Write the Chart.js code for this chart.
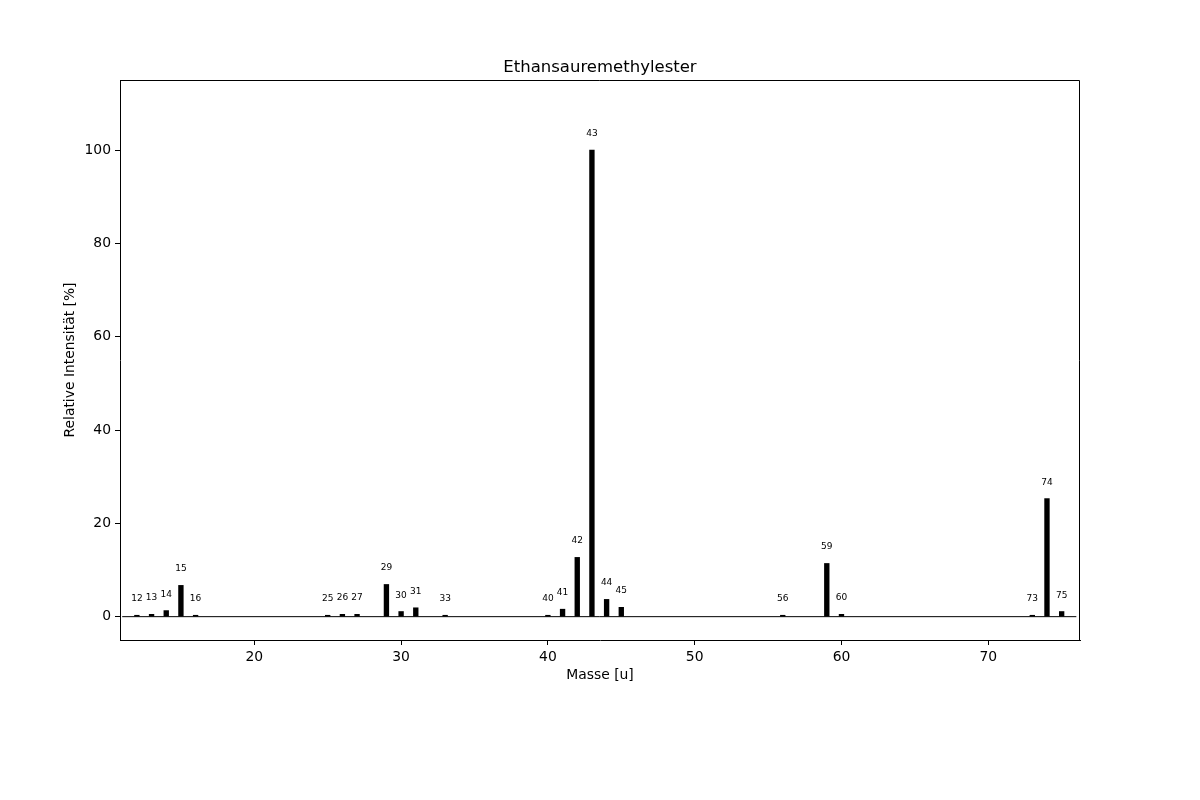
<!DOCTYPE html>
<html lang="de">
<head>
    <meta charset="UTF-8">
    <title>Ethansauremethylester</title>
    <script src="https://cdn.jsdelivr.net/npm/chart.js"></script>
    <style>
        body { margin: 0; background: #fff; }
        #chart { display: block; }
    </style>
</head>
<body>
    <canvas id="chart" width="1200" height="800"></canvas>

    <script>
        // Massenspektrum: Masse [u] und relative Intensität [%]
        const masses = [12, 13, 14, 15, 16, 25, 26, 27, 29, 30, 31, 33, 40, 41, 42, 43, 44, 45, 56, 59, 60, 73, 74, 75];
        const intensities = [0.3, 0.5, 1.3, 6.7, 0.3, 0.3, 0.5, 0.5, 6.9, 1.1, 1.9, 0.3, 0.3, 1.6, 12.7, 100, 3.7, 2.0, 0.3, 11.4, 0.5, 0.3, 25.3, 1.1];
        const xTicks = [20, 30, 40, 50, 60, 70];
        const yTicks = [0, 20, 40, 60, 80, 100];
        const baseline = [11, 76];

        const FONT = 'DejaVu Sans';

        // Rahmen, Titel, Achsenbeschriftungen und Peak-Labels
        const decorations = {
            id: 'decorations',
            afterDatasetsDraw(chart) {
                const ctx = chart.ctx;
                const area = chart.chartArea;
                const x = chart.scales.x;
                const y = chart.scales.y;

                ctx.save();
                ctx.fillStyle = '#000';
                ctx.font = '9px "' + FONT + '"';
                ctx.textAlign = 'center';
                ctx.textBaseline = 'alphabetic';
                masses.forEach((m, i) => {
                    ctx.fillText(String(m), x.getPixelForValue(m), y.getPixelForValue(intensities[i] + 3));
                });

                ctx.strokeStyle = '#000';
                ctx.lineWidth = 1;
                ctx.beginPath();
                ctx.moveTo(area.left, area.top + 0.5);
                ctx.lineTo(area.right - 0.5, area.top + 0.5);
                ctx.lineTo(area.right - 0.5, area.bottom);
                ctx.stroke();

                ctx.font = '16.5px "' + FONT + '"';
                ctx.fillText('Ethansauremethylester', (area.left + area.right) / 2, 72);

                ctx.font = '13.9px "' + FONT + '"';
                ctx.textBaseline = 'middle';
                ctx.fillText('Masse [u]', (area.left + area.right) / 2, 675);

                ctx.translate(70, (area.top + area.bottom) / 2);
                ctx.rotate(-Math.PI / 2);
                ctx.fillText('Relative Intensität [%]', 0, 0);
                ctx.restore();
            }
        };

        new Chart(document.getElementById('chart'), {
            type: 'bar',
            data: {
                datasets: [{
                    type: 'bar',
                    data: masses.map((m, i) => ({ x: m, y: intensities[i] })),
                    backgroundColor: '#000',
                    borderWidth: 0,
                    barThickness: 4.7,
                    order: 2
                }, {
                    type: 'line',
                    data: baseline.map(v => ({ x: v, y: 0 })),
                    borderColor: '#000',
                    borderWidth: 1,
                    pointRadius: 0,
                    order: 1
                }]
            },
            options: {
                responsive: false,
                animation: false,
                layout: { padding: { top: 80, right: 120, left: 0, bottom: 0 } },
                plugins: {
                    legend: { display: false },
                    tooltip: { enabled: false },
                    title: { display: false }
                },
                scales: {
                    x: {
                        type: 'linear',
                        min: 10.85,
                        max: 76.25,
                        offset: false,
                        afterFit(scale) { scale.height = 160; },
                        afterBuildTicks(scale) { scale.ticks = xTicks.map(v => ({ value: v })); },
                        grid: { offset: false, drawOnChartArea: false, drawTicks: true, tickLength: 5, color: '#000' },
                        border: { display: true, color: '#000', width: 1 },
                        ticks: { color: '#000', padding: 4, maxRotation: 0, font: { family: FONT, size: 13.9 } }
                    },
                    y: {
                        min: -5,
                        max: 115,
                        afterFit(scale) { scale.width = 120; },
                        afterBuildTicks(scale) { scale.ticks = yTicks.map(v => ({ value: v })); },
                        grid: { offset: false, drawOnChartArea: false, drawTicks: true, tickLength: 5, color: '#000' },
                        border: { display: true, color: '#000', width: 1 },
                        ticks: { color: '#000', padding: 4, font: { family: FONT, size: 13.9 } }
                    }
                }
            },
            plugins: [decorations]
        });
    </script>
</body>
</html>
